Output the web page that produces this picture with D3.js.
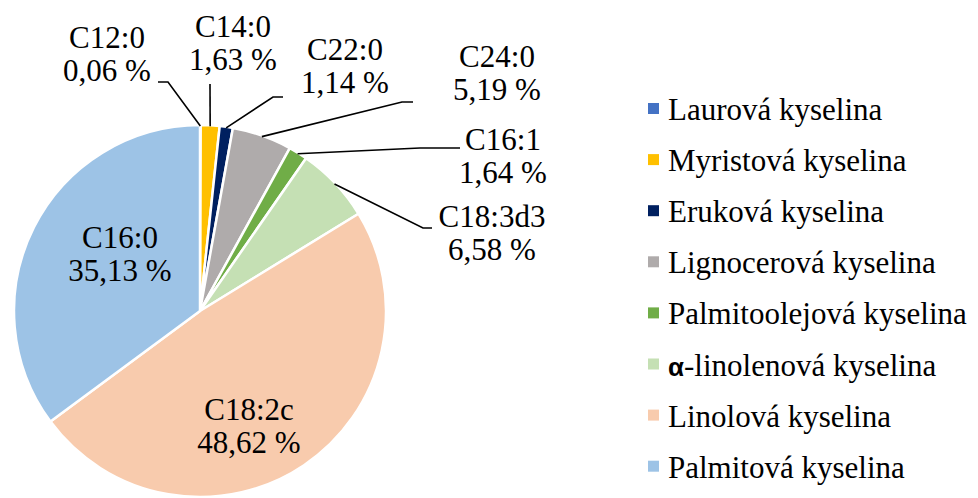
<!DOCTYPE html>
<html>
<head>
<meta charset="utf-8">
<script src="https://cdn.jsdelivr.net/npm/d3@7"></script>
</head>
<body style="margin:0">
<div id="chart"></div>
<script>
// data
var codes  = ["C12:0", "C14:0", "C22:0", "C24:0", "C16:1", "C18:3d3", "C18:2c", "C16:0"];
var names  = ["Laurová kyselina", "Myristová kyselina", "Eruková kyselina", "Lignocerová kyselina",
              "Palmitoolejová kyselina", "-linolenová kyselina", "Linolová kyselina", "Palmitová kyselina"];
var values = [0.06, 1.63, 1.14, 5.19, 1.64, 6.58, 48.62, 35.13];
var colors = ["#4472C4", "#FFC000", "#002060", "#AFABAB", "#70AD47", "#C5E0B4", "#F8CBAD", "#9DC3E6"];

// label layout: text centre x, first baseline y, leader end (lx,ly) and elbow x (ex)
var labelLayout = [
  {x: 107, y: 48,  lx: 158, ly: 82,  ex: 168},
  {x: 233, y: 37,  lx: 210, ly: 84,  ex: 210},
  {x: 345, y: 60,  lx: 283, ly: 97,  ex: 273},
  {x: 497, y: 67,  lx: 413, ly: 102, ex: 402},
  {x: 503, y: 150, lx: 460, ly: 148, ex: 420},
  {x: 492, y: 227, lx: 432, ly: 228, ex: 423},
  {x: 249, y: 420},
  {x: 120, y: 248}
];

var width = 978, height = 498;
var cx = 200, cy = 311, radius = 186;
var lineH = 33;

var svg = d3.select("#chart")
            .append("svg")
            .attr("width", width)
            .attr("height", height);

var pie = d3.pie().sort(null).value(d => d);
var arcs = pie(values);
var arc = d3.arc().innerRadius(0).outerRadius(radius);

var g = svg.append("g").attr("transform", "translate(" + cx + "," + cy + ")");

g.selectAll("path")
  .data(arcs)
  .enter()
  .append("path")
  .attr("d", arc)
  .style("fill", (d, i) => colors[i])
  .style("stroke", "#fff")
  .style("stroke-width", 2.5)
  .style("stroke-linejoin", "round");

// leader lines
arcs.forEach(function(d, i){
  var L = labelLayout[i];
  if (L.lx === undefined) return;
  var a = (d.startAngle + d.endAngle) / 2;
  var px = cx + (radius - 1) * Math.sin(a);
  var py = cy - (radius - 1) * Math.cos(a);
  svg.append("path")
     .attr("d", d3.line()([[px, py], [L.ex, L.ly], [L.lx, L.ly]]))
     .style("fill", "none")
     .style("stroke", "#000")
     .style("stroke-width", 1.6);
});

// data labels, two lines each
arcs.forEach(function(d, i){
  var L = labelLayout[i];
  var pct = d3.format(".2f")(values[i]).replace(".", ",") + " %";
  [codes[i], pct].forEach(function(s, k){
    svg.append("text")
       .attr("x", L.x)
       .attr("y", L.y + k * lineH)
       .attr("text-anchor", "middle")
       .style("font-family", "'Liberation Serif'")
       .style("font-size", "31px")
       .text(s);
  });
});

// legend
var legend = svg.selectAll(".legend")
                .data(names)
                .enter()
                .append("g")
                .attr("class", "legend")
                .attr("transform", (d, i) => "translate(648," + (120 + i * 51.1) + ")");

legend.append("rect")
      .attr("x", 0)
      .attr("y", -17)
      .attr("width", 11)
      .attr("height", 11)
      .style("fill", (d, i) => colors[i]);

// alpha prefix for the alpha-linolenic entry
legend.filter((d, i) => i === 5)
      .append("text")
      .attr("x", 20)
      .attr("y", 0)
      .style("font-family", "'Liberation Sans'")
      .style("font-weight", "bold")
      .style("font-size", "26px")
      .text("α");

legend.append("text")
      .attr("x", (d, i) => i === 5 ? 36 : 20)
      .attr("y", 0)
      .style("font-family", "'Liberation Serif'")
      .style("font-size", "31px")
      .text(d => d);
</script>
</body>
</html>
